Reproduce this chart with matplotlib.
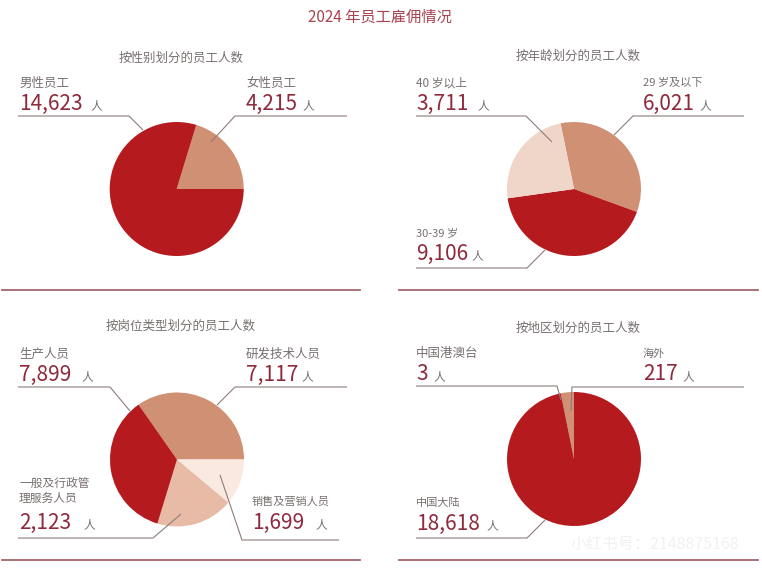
import matplotlib
matplotlib.use('Agg')
import matplotlib.pyplot as plt

plt.rcParams['font.family'] = ['Noto Sans CJK SC', 'DejaVu Sans']

W, H = 762, 570

RED = '#b51a1f'
SALMON = '#d09073'
PALE = '#efd6c9'
LIGHT = '#e8bba6'
CREAM = '#f9e9e0'
VALUE_COLOR = '#8e2a3c'
LABEL_COLOR = '#77706f'
LINE_COLOR = '#8d7c7c'
RULE_COLOR = '#a3666c'

title = '2024 年员工雇佣情况'

gender_title = '按性别划分的员工人数'
gender_names = ['女性员工', '男性员工']
gender_counts = [4215, 14623]
gender_angles = [73, 287]  # slice sizes as drawn, in degrees

age_title = '按年龄划分的员工人数'
age_names = ['29 岁及以下', '30-39 岁', '40 岁以上']
age_counts = [6021, 9106, 3711]
age_angles = [121.6, 152, 86.4]

job_title = '按岗位类型划分的员工人数'
job_names = ['研发技术人员', '销售及营销人员', '一般及行政管\n理服务人员', '生产人员']
job_counts = [7117, 1699, 2123, 7899]
job_angles = [125, 40, 67, 128]

region_title = '按地区划分的员工人数'
region_names = ['海外', '中国大陆', '中国港澳台']
region_counts = [217, 18618, 3]
region_angles = [11.4, 348.6]


def py(y):
    return H - y


def draw_pie(ax, angles, colors, start, cx, cy):
    ax.pie(angles, colors=colors, startangle=start, counterclock=False,
           center=(cx, py(cy)), radius=67, frame=True,
           wedgeprops={'linewidth': 0})


def draw_number(ax, count, x, y, unit_x):
    ax.text(x, py(y + 1.5), f'{count:,}', color=VALUE_COLOR, fontsize=15,
            weight=500, va='center', ha='left')
    ax.text(unit_x, py(y + 4), '人', color=LABEL_COLOR, fontsize=8.5,
            va='center', ha='left')


def draw_label(ax, name, count, x, y, unit_x, size=9):
    # y is the centre of the number, name sits above it
    ax.text(x, py(y - 19), name, color=LABEL_COLOR, fontsize=size,
            va='center', ha='left', linespacing=1.2)
    draw_number(ax, count, x, y, unit_x)


def leader(ax, points):
    xs = [p[0] for p in points]
    ys = [py(p[1]) for p in points]
    ax.plot(xs, ys, color=LINE_COLOR, linewidth=0.8, solid_capstyle='butt')


fig = plt.figure(figsize=(W / 100, H / 100), dpi=100)
ax = fig.add_axes([0, 0, 1, 1])

draw_pie(ax, gender_angles, [SALMON, RED], 73, 176.7, 189)
draw_pie(ax, age_angles, [SALMON, RED, PALE], 101.6, 574, 189)
draw_pie(ax, job_angles, [SALMON, CREAM, LIGHT, RED], 125, 177, 459.5)
draw_pie(ax, region_angles, [SALMON, RED], 101.4, 574, 459)

ax.set_xlim(0, W)
ax.set_ylim(0, H)
ax.set_aspect('auto')
ax.axis('off')

ax.text(380, py(17.5), title, color='#a8434f', fontsize=11, ha='center', va='center')
ax.text(181, py(58.5), gender_title, color=LABEL_COLOR, fontsize=9, ha='center', va='center')
ax.text(578, py(56.5), age_title, color=LABEL_COLOR, fontsize=9, ha='center', va='center')
ax.text(181, py(326.5), job_title, color=LABEL_COLOR, fontsize=9, ha='center', va='center')
ax.text(578, py(328.5), region_title, color=LABEL_COLOR, fontsize=9, ha='center', va='center')

# top left
draw_label(ax, gender_names[1], gender_counts[1], 19, 102, 90)
draw_label(ax, gender_names[0], gender_counts[0], 246, 102, 302)
leader(ax, [(18, 116), (129, 116), (143, 130)])
leader(ax, [(347, 116), (235, 116), (211, 142)])

# top right
draw_label(ax, age_names[2], age_counts[2], 416, 102, 477, size=8.5)
draw_label(ax, age_names[0], age_counts[0], 643, 102, 699, size=8)
draw_label(ax, age_names[1], age_counts[1], 416, 252, 471, size=8)
leader(ax, [(416, 116), (526, 116), (552, 142)])
leader(ax, [(744, 116), (633, 116), (614, 135)])
leader(ax, [(416, 268), (527, 268), (545, 250)])

# bottom left
draw_label(ax, job_names[3], job_counts[3], 19, 373, 81)
draw_label(ax, job_names[0], job_counts[0], 246, 373, 301)
ax.text(19, py(491), job_names[2], color=LABEL_COLOR, fontsize=8.5,
        va='center', ha='left', linespacing=1.25)
draw_number(ax, job_counts[2], 19, 521, 83)
draw_label(ax, job_names[1], job_counts[1], 252, 521, 315, size=8)
leader(ax, [(18, 387), (110, 387), (130, 411)])
leader(ax, [(347, 387), (235, 387), (217, 405)])
leader(ax, [(18, 538), (153, 538), (181, 514)])
leader(ax, [(339, 540), (242, 540), (220, 475)])

# bottom right
draw_label(ax, region_names[2], region_counts[2], 416, 373, 433)
draw_label(ax, region_names[0], region_counts[0], 643, 373, 682, size=8)
draw_label(ax, region_names[1], region_counts[1], 416, 522, 486, size=8)
leader(ax, [(416, 386), (557, 386), (561, 400)])
leader(ax, [(744, 387), (572, 387), (571, 411)])
leader(ax, [(416, 538), (527, 538), (545, 520)])

# section rules
for x0, x1 in [(2, 360), (399, 758)]:
    for y in [290, 560]:
        ax.plot([x0, x1], [py(y), py(y)], color=RULE_COLOR, linewidth=1.3)

ax.text(655, py(544), '小红书号：2148875168', color='#f1f1f1', fontsize=11.5,
        ha='center', va='center')

fig.savefig('out.png', dpi=100)
